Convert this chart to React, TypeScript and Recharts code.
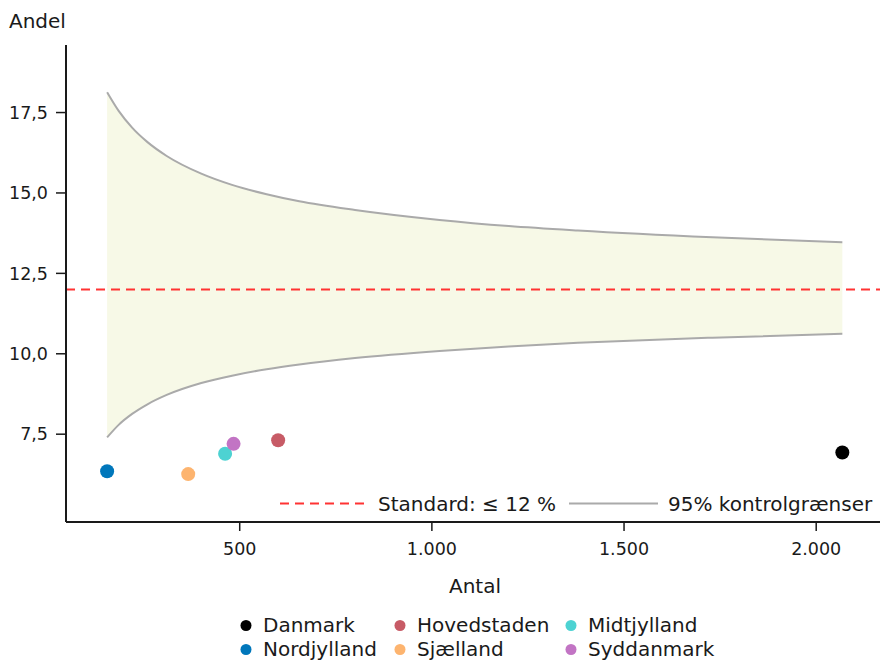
import React from "react";
import {
  ComposedChart,
  Area,
  Line,
  Scatter,
  XAxis,
  YAxis,
  ReferenceLine,
} from "recharts";

// funnel (95% control limits)
const bandN = [155, 185, 220, 260, 310, 400, 480, 570, 655, 800, 1020, 1200, 1380, 1730, 2068];
const upper = [18.13, 17.55, 17.03, 16.58, 16.15, 15.6, 15.25, 14.96, 14.74, 14.47, 14.16, 13.97, 13.83, 13.62, 13.47];
const lower = [7.4, 7.79, 8.13, 8.43, 8.72, 9.09, 9.32, 9.52, 9.67, 9.87, 10.09, 10.23, 10.34, 10.5, 10.62];

// regions
const regions = ["Danmark", "Hovedstaden", "Midtjylland", "Nordjylland", "Sjælland", "Syddanmark"];
const antal = [2068, 600, 462, 155, 366, 484];
const andel = [6.93, 7.31, 6.89, 6.35, 6.26, 7.2];
const colors = ["#000000", "#c75b66", "#4dd2d2", "#0077bb", "#fdb46f", "#c274c4"];

const xTicks = [500, 1000, 1500, 2000];
const yTicks = [7.5, 10, 12.5, 15, 17.5];
const standard = 12;

const bandData = bandN.map((n, i) => ({
  n,
  upper: upper[i],
  lower: lower[i],
  band: [lower[i], upper[i]],
}));

const FONT = "'DejaVu Sans', Verdana, sans-serif";
const INK = "#1a1a1a";

const fmtX = (v: number) =>
  v >= 1000 ? `${Math.floor(v / 1000)}.${String(v % 1000).padStart(3, "0")}` : String(v);
const fmtY = (v: number) => v.toFixed(1).replace(".", ",");

// legend order: column-wise as in the reference
const legendOrder = [0, 3, 1, 4, 2, 5];
const legendCols = [246, 400, 571];
const legendRows = [625.5, 649.5];

export default function App() {
  return (
    <div style={{ position: "absolute", left: 0, top: 0, width: 881, height: 660, background: "#fff" }}>
      <ComposedChart
        width={881}
        height={660}
        margin={{ top: 45, right: 1, bottom: 98, left: 0 }}
        style={{ fontFamily: FONT }}
      >
        <XAxis
          dataKey="n"
          type="number"
          domain={[48, 2166]}
          ticks={xTicks}
          tickFormatter={fmtX}
          allowDataOverflow
          height={40}
          tickSize={9}
          tickMargin={12}
          axisLine={{ stroke: INK, strokeWidth: 2 }}
          tickLine={{ stroke: INK, strokeWidth: 1.5 }}
          tick={{ fill: INK, fontSize: 17.5, fontFamily: FONT }}
        />
        <YAxis
          type="number"
          domain={[4.77, 19.6]}
          ticks={yTicks}
          tickFormatter={fmtY}
          allowDataOverflow
          width={66}
          tickSize={10}
          tickMargin={8}
          axisLine={{ stroke: INK, strokeWidth: 2 }}
          tickLine={{ stroke: INK, strokeWidth: 1.5 }}
          tick={{ fill: INK, fontSize: 17.5, fontFamily: FONT }}
        />
        <Area
          data={bandData}
          dataKey="band"
          type="monotone"
          fill="#f7f9e7"
          fillOpacity={1}
          stroke="none"
          isAnimationActive={false}
        />
        <Line
          data={bandData}
          dataKey="upper"
          type="monotone"
          stroke="#aaaaaa"
          strokeWidth={2}
          dot={false}
          activeDot={false}
          isAnimationActive={false}
        />
        <Line
          data={bandData}
          dataKey="lower"
          type="monotone"
          stroke="#aaaaaa"
          strokeWidth={2}
          dot={false}
          activeDot={false}
          isAnimationActive={false}
        />
        <ReferenceLine y={standard} stroke="#ff3333" strokeWidth={2} strokeDasharray="9 6" />
        {regions.map((r, i) => (
          <Scatter
            key={r}
            name={r}
            data={[{ n: antal[i], andel: andel[i] }]}
            dataKey="andel"
            fill={colors[i]}
            isAnimationActive={false}
            shape={(p: any) => <circle cx={p.cx} cy={p.cy} r={7} fill={colors[i]} />}
          />
        ))}
      </ComposedChart>

      {/* titles and legends */}
      <svg
        width={881}
        height={660}
        style={{ position: "absolute", left: 0, top: 0, pointerEvents: "none", fontFamily: FONT }}
      >
        <text x={9} y={27.5} fontSize={20} fill={INK}>Andel</text>
        <text x={475} y={593} fontSize={20} fill={INK} textAnchor="middle">Antal</text>

        <line x1={280} x2={365} y1={503.5} y2={503.5} stroke="#ff3333" strokeWidth={2} strokeDasharray="9 6" />
        <text x={378} y={510.5} fontSize={20} fill={INK}>Standard: ≤ 12 %</text>
        <line x1={569} x2={658} y1={503.5} y2={503.5} stroke="#aaaaaa" strokeWidth={2} />
        <text x={668} y={510.5} fontSize={20} fill={INK}>95% kontrolgrænser</text>

        {legendOrder.map((idx, k) => {
          const col = Math.floor(k / 2);
          const row = k % 2;
          const cx = legendCols[col];
          const cy = legendRows[row];
          return (
            <g key={regions[idx]}>
              <circle cx={cx} cy={cy} r={5.5} fill={colors[idx]} />
              <text x={cx + 17} y={cy + 6.5} fontSize={20} fill={INK}>{regions[idx]}</text>
            </g>
          );
        })}
      </svg>
    </div>
  );
}
